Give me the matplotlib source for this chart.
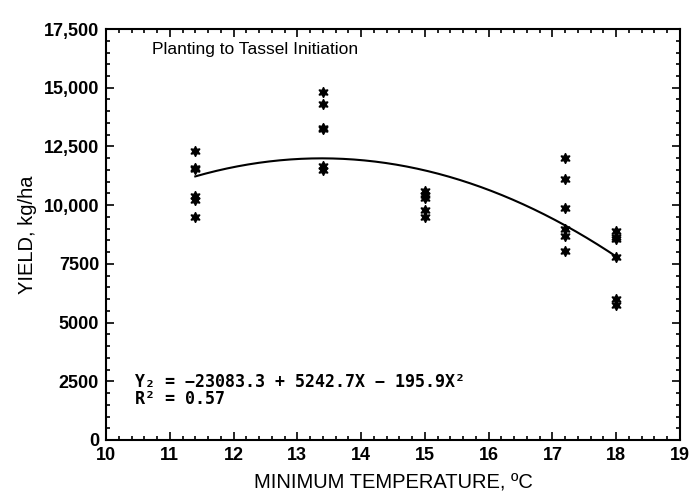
import matplotlib
matplotlib.use("Agg")
import matplotlib.pyplot as plt
from matplotlib.ticker import MultipleLocator, FixedLocator
import numpy as np

# temperature groups and yields
temp_11 = [11.4] * 6
yield_11 = [12300, 11600, 11550, 10400, 10200, 9500]
temp_13 = [13.4] * 6
yield_13 = [14800, 14300, 13300, 13250, 11650, 11500]
temp_15 = [15.0] * 5
yield_15 = [10600, 10450, 10300, 9800, 9500]
temp_17 = [17.2] * 6
yield_17 = [12000, 11100, 9900, 9000, 8700, 8050]
temp_18 = [18.0] * 6
yield_18 = [8900, 8650, 8550, 7800, 6000, 5750]

# quadratic fit printed on the chart
fit_coef = [-195.9, 5242.7, -23083.3]
fit_range = [11.4, 18.0]

yticks = [0, 2500, 5000, 7500, 10000, 12500, 15000, 17500]
ytick_labels = ["0", "2500", "5000", "7500", "10,000", "12,500", "15,000", "17,500"]
xticks = list(range(10, 20))

plt.rcParams["font.family"] = ["Liberation Sans", "DejaVu Sans"]

fig = plt.figure(figsize=(6.91, 4.97), dpi=100)
ax = fig.add_axes([0.1534, 0.1147, 0.8306, 0.8269])

x_all = temp_11 + temp_13 + temp_15 + temp_17 + temp_18
y_all = yield_11 + yield_13 + yield_15 + yield_17 + yield_18
ax.plot(x_all, y_all, linestyle="none", marker=(6, 1, 0), markersize=7.5,
        color="black", markeredgewidth=0.9)

xs = np.linspace(fit_range[0], fit_range[1], 200)
ax.plot(xs, np.polyval(fit_coef, xs), color="black", linewidth=1.5)

ax.set_xlim(10, 19)
ax.set_ylim(0, 17500)
ax.xaxis.set_major_locator(FixedLocator(xticks))
ax.xaxis.set_minor_locator(MultipleLocator(0.2))
ax.yaxis.set_major_locator(FixedLocator(yticks))
ax.yaxis.set_minor_locator(MultipleLocator(500))
ax.set_yticklabels(ytick_labels)
ax.set_xticklabels([str(t) for t in xticks])

ax.tick_params(which="both", direction="in", top=True, right=True, width=1.2)
ax.tick_params(which="major", length=6, labelsize=13, pad=5)
ax.tick_params(which="minor", length=3)
for lab in ax.get_xticklabels() + ax.get_yticklabels():
    lab.set_fontweight("bold")
for sp in ax.spines.values():
    sp.set_linewidth(1.5)

ax.set_xlabel("MINIMUM TEMPERATURE, ºC", fontsize=14.5, labelpad=7)
ax.set_ylabel("YIELD, kg/ha", fontsize=14.5, labelpad=5)

ax.text(0.08, 0.949, "Planting to Tassel Initiation", transform=ax.transAxes,
        fontsize=12.5, va="center", ha="left")
ax.text(0.05, 0.140, "Y\u2082 = \u221223083.3 + 5242.7X \u2212 195.9X\u00b2",
        transform=ax.transAxes, family="DejaVu Sans Mono", fontweight="bold",
        fontsize=12, va="center", ha="left")
ax.text(0.05, 0.100, "R\u00b2 = 0.57", transform=ax.transAxes,
        family="DejaVu Sans Mono", fontweight="bold", fontsize=12,
        va="center", ha="left")

fig.savefig("out.png", dpi=100)
